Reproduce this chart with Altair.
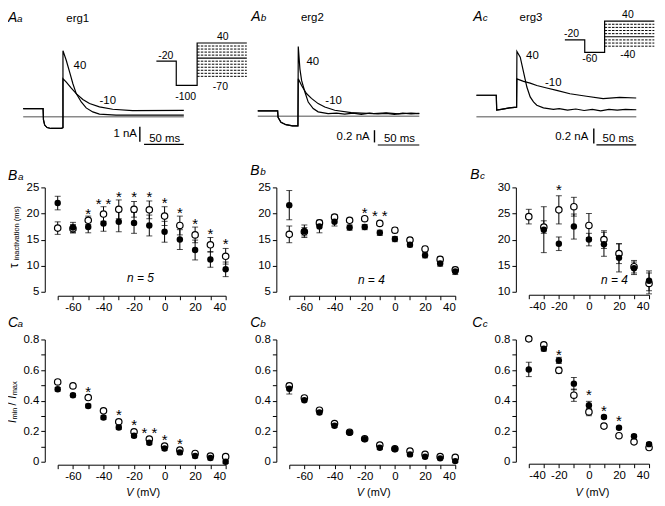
import altair as alt
import pandas as pd

FONT = "Liberation Sans"

# ================= Row A: current traces (t in ms, I in nA) =================
# erg1
erg1_pre_t = [0, 25, 25.5, 27, 30, 35, 48, 50]
erg1_pre_i = [0.55, 0.55, -0.2, -0.55, -0.72, -0.78, -0.78, -0.72]
erg1_p40_t = [50, 54.2, 58.4, 62.5, 66.7, 73.0, 79.2, 87.5, 95.9, 116.7, 202]
erg1_p40_i = [4.44, 3.78, 3.0, 2.22, 1.56, 1.0, 0.6, 0.33, 0.18, 0.11, 0.11]
erg1_m10_t = [50, 54.2, 60.5, 66.7, 75, 83.4, 95.9, 112.5, 137.5, 202]
erg1_m10_i = [2.56, 2.33, 1.93, 1.56, 1.16, 0.89, 0.67, 0.51, 0.42, 0.44]
# erg2
erg2_pre_t = [0, 24, 24.5, 28, 34, 42, 48.5]
erg2_pre_i = [0.086, 0.086, -0.02, -0.10, -0.14, -0.158, -0.16]
erg2_p40_t = [48.9, 50.9, 52.9, 56.9, 60.9, 66.9, 72.9, 84.9, 95, 105, 115, 125, 135, 145, 155, 165, 175, 185, 195]
erg2_p40_i = [1.14, 0.77, 0.585, 0.395, 0.23, 0.124, 0.07, 0.042, 0.05, 0.032, 0.048, 0.03, 0.05, 0.035, 0.045, 0.03, 0.05, 0.035, 0.045]
erg2_m10_t = [48.9, 52.9, 58.8, 64.8, 72.9, 80.9, 92.9, 112.9, 125, 140, 155, 170, 185, 195]
erg2_m10_i = [0.61, 0.50, 0.37, 0.29, 0.205, 0.15, 0.097, 0.059, 0.05, 0.04, 0.052, 0.038, 0.05, 0.042]
# erg3
erg3_pre_t = [0, 24, 24.5, 30, 40, 48.5]
erg3_pre_i = [0.29, 0.29, 0.09, 0.10, 0.12, 0.13]
erg3_p40_t = [48.9, 52.9, 56.9, 60.9, 64.9, 68.9, 72.9, 80.9, 92.9, 100, 110, 120, 130, 140, 150, 160, 170, 180, 193]
erg3_p40_i = [0.876, 0.80, 0.60, 0.40, 0.267, 0.20, 0.156, 0.12, 0.10, 0.11, 0.09, 0.105, 0.085, 0.10, 0.08, 0.10, 0.09, 0.10, 0.095]
erg3_m10_t = [48.9, 56.9, 64.9, 72.9, 84.9, 96.9, 112.9, 132.9, 152.9, 172.9, 192.9]
erg3_m10_i = [0.51, 0.476, 0.453, 0.42, 0.387, 0.356, 0.31, 0.276, 0.244, 0.262, 0.253]

zero_end = [202, 195, 193]
erg1_lab = [(63.4, 3.22, "40"), (96, 0.89, "-10")]
erg2_lab = [(58.8, 0.84, "40"), (81.6, 0.205, "-10")]
erg3_lab = [(60, 0.77, "40"), (82.8, 0.415, "-10")]
erg1_bar = dict(vt=146.7, vi=(-0.67, -1.67), vtxt="1 nA", vtxt_t=143, vtxt_i=-1.17,
                ht=(152, 202), hi=-1.85, htxt="50 ms", htxt_t=178, htxt_i=-1.67)
erg2_bar = dict(vt=140.9, vi=(-0.23, -0.43), vtxt="0.2 nA", vtxt_t=135, vtxt_i=-0.337,
                ht=(144.9, 195), hi=-0.472, htxt="50 ms", htxt_t=171, htxt_i=-0.418)
erg3_bar = dict(vt=141.7, vi=(-0.156, -0.356), vtxt="0.2 nA", vtxt_t=135, vtxt_i=-0.267,
                ht=(144.9, 192.9), hi=-0.377, htxt="50 ms", htxt_t=171, htxt_i=-0.333)

# voltage protocols (schematic time units, mV)
prot1_v = [0, 20, 20, 41, 41, 91]
prot1_mv = [-20, -20, -100, -100, 40, 40]
prot1_levels = [30, 20, 10, 0, -10, -20, -30, -40, -50, -60, -70]
prot1_labels = [(9.4, -12.5, "-20"), (29.4, -147, "-100"), (66.7, 49.8, "40"), (64.4, -116, "-70")]
prot3_v = [0, 20, 20, 40, 40, 90]
prot3_mv = [-20, -20, -60, -60, 40, 40]
prot3_levels = [30, 20, 10, 0, -10, -20, -30, -40]
prot3_labels = [(6.7, -10.8, "-20"), (25, -92, "-60"), (63.4, 48.6, "40"), (63.4, -77.5, "-40")]

# ================= Row B: tau inactivation (ms) =================
V_all = [-70, -60, -50, -40, -30, -20, -10, 0, 10, 20, 30, 40]
Ba_open = [17.2, 17.1, 18.7, 19.9, 20.8, 20.8, 20.7, 19.5, 17.7, 15.9, 14.0, 11.8]
Ba_open_err = [1.2, 0.8, 0.8, 1.4, 1.8, 1.5, 1.7, 1.8, 1.8, 1.5, 1.4, 1.5]
Ba_fill = [22.0, 17.3, 17.4, 18.1, 18.4, 18.2, 17.7, 16.5, 15.0, 13.0, 11.2, 9.3]
Ba_fill_err = [1.3, 1.0, 1.1, 1.5, 1.9, 2.0, 2.0, 2.0, 1.9, 1.9, 1.5, 1.4]
Ba_ast_V = [-50, -40, -30, -20, -10, 0, 10, 20, 30, 40]
Ba_ast_y = [20.5, 22.4, 23.7, 23.7, 23.7, 22.6, 20.7, 18.6, 16.6, 14.8]
Ba_ast_t = ["*", "* *", "*", "*", "*", "*", "*", "*", "*", "*"]

Bb_open = [16.0, 16.5, 18.2, 19.3, 18.7, 19.0, 18.1, 16.8, 14.9, 13.2, 11.2, 9.2]
Bb_open_err = [1.6, 0.8, 0.5, 0.5, 0.4, 0.4, 0.4, 0.5, 0.5, 0.5, 0.5, 0.5]
Bb_fill = [21.6, 16.6, 17.5, 18.4, 17.3, 17.4, 16.3, 15.1, 14.0, 12.0, 10.4, 8.9]
Bb_fill_err = [2.8, 1.2, 1.2, 0.8, 0.5, 0.5, 0.5, 0.5, 0.4, 0.5, 0.5, 0.6]
Bb_ast_V = [-20, -10]
Bb_ast_y = [20.6, 20.0]
Bb_ast_t = ["*", "* *"]

V_erg3 = [-40, -30, -20, -10, 0, 10, 20, 30, 40]
Bc_open = [24.4, 22.4, 25.7, 26.3, 22.7, 20.0, 17.3, 14.8, 11.6]
Bc_open_err = [1.4, 1.2, 2.7, 1.8, 2.3, 1.7, 1.9, 1.2, 2.0]
V_erg3_fill = [-30, -20, -10, 0, 10, 20, 30, 40]
Bc_fill = [21.9, 19.2, 22.5, 20.0, 19.1, 16.5, 14.5, 12.1]
Bc_fill_err = [4.4, 1.3, 2.4, 1.2, 2.3, 2.7, 1.2, 1.9]
Bc_ast_V = [-20]
Bc_ast_y = [30.0]
Bc_ast_t = ["*"]

# ================= Row C: Imin / Imax =================
Ca_open = [0.522, 0.496, 0.42, 0.333, 0.261, 0.196, 0.148, 0.102, 0.076, 0.054, 0.037, 0.033]
Ca_fill = [0.474, 0.435, 0.365, 0.289, 0.224, 0.170, 0.124, 0.087, 0.061, 0.037, 0.024, 0.0]
Ca_err = [0.012] * 12
Ca_ast_V = [-50, -30, -20, -10, 0, 10]
Ca_ast_y = [0.478, 0.326, 0.261, 0.207, 0.163, 0.137]
Ca_ast_t = ["*", "*", "*", "* *", "*", "*"]

Cb_open = [0.496, 0.417, 0.337, 0.25, 0.193, 0.15, 0.109, 0.085, 0.07, 0.048, 0.033, 0.028]
Cb_fill = [0.478, 0.402, 0.322, 0.235, 0.191, 0.148, 0.091, 0.083, 0.048, 0.033, 0.022, 0.004]
Cb_open_err = [0.012] * 12
Cb_fill_err = [0.035] + [0.01] * 11

Cc_open = [0.804, 0.765, 0.598, 0.435, 0.326, 0.233, 0.17, 0.13, 0.093]
Cc_open_err = [0.015, 0.015, 0.02, 0.04, 0.025, 0.01, 0.01, 0.01, 0.01]
Cc_fill = [0.604, 0.739, 0.663, 0.511, 0.37, 0.293, 0.222, 0.167, 0.115]
Cc_fill_err = [0.047, 0.015, 0.02, 0.04, 0.025, 0.01, 0.01, 0.01, 0.01]
Cc_ast_V = [-20, 0, 10, 20]
Cc_ast_y = [0.72, 0.457, 0.354, 0.283]
Cc_ast_t = ["*", "*", "*", "*"]

DUMMY = pd.DataFrame({"z": [0]})


def txt(s, x, y, size, style="normal", angle=0, align="left", baseline="alphabetic"):
    kw = dict(text=s, fontSize=size, fontStyle=style, align=align, baseline=baseline)
    if angle:
        kw["angle"] = angle
    return alt.Chart(DUMMY).mark_text(**kw).encode(x=alt.value(x), y=alt.value(y))


def label(big, small, x, y, x2):
    return [txt(big, x, y, 14, "italic"), txt(small, x2, y, 10, "italic")]


def vmv_title(x, y):
    return [txt("V", x, y, 11, "italic"), txt("(mV)", x + 10.3, y, 11)]


def tau_title():
    return [txt("τ", -40, 89, 12, angle=270), txt("inactivation (ms)", -39, 81.5, 7.5, angle=270)]


def imm_title():
    return [txt("I", -42, 92, 10.5, "italic", angle=270),
            txt("min", -40.5, 88.5, 7.5, angle=270),
            txt("/", -42, 74.5, 10.5, angle=270),
            txt("I", -42, 67.6, 10.5, "italic", angle=270),
            txt("max", -40.5, 64.2, 7.5, angle=270)]


def trace_panel(pre_t, pre_i, traces, zend, labs, bar, trange, irange, idom, w, h, lab, erg, ergx, ergy,
                inset=None, anchor=False):
    rows = []
    for name, (tt, ii) in traces.items():
        k = 0
        for t, i in list(zip(pre_t, pre_i)) + list(zip(tt, ii)):
            rows.append({"t": t, "I": i, "trace": name, "k": k})
            k += 1
    df = pd.DataFrame(rows)
    X = alt.X("t:Q", scale=alt.Scale(domain=[0, 200], range=trange, nice=False, zero=False), axis=None)
    Y = alt.Y("I:Q", scale=alt.Scale(domain=idom, range=irange, nice=False, zero=False), axis=None)
    zero = alt.Chart(pd.DataFrame({"t": [0], "t2": [zend], "I": [0]})).mark_rule(
        color="#8a8a8a", strokeWidth=1.5).encode(x=X, x2="t2:Q", y=Y)
    lines = alt.Chart(df).mark_line(color="black", strokeWidth=1.2).encode(
        x=X, y=Y, detail="trace:N", order="k:Q")
    lab_df = pd.DataFrame({"t": [a for a, b, c in labs], "I": [b for a, b, c in labs],
                           "s": [c for a, b, c in labs]})
    labt = alt.Chart(lab_df).mark_text(fontSize=11.5, align="left", baseline="alphabetic").encode(
        x=X, y=Y, text="s:N")
    vbar = alt.Chart(pd.DataFrame({"t": [bar["vt"]], "I": [bar["vi"][0]], "I2": [bar["vi"][1]]})).mark_rule(
        color="black", strokeWidth=1.4).encode(x=X, y=Y, y2="I2:Q")
    hbar = alt.Chart(pd.DataFrame({"t": [bar["ht"][0]], "t2": [bar["ht"][1]], "I": [bar["hi"]]})).mark_rule(
        color="black", strokeWidth=1.2).encode(x=X, x2="t2:Q", y=Y)
    vtxt = alt.Chart(pd.DataFrame({"t": [bar["vtxt_t"]], "I": [bar["vtxt_i"]], "s": [bar["vtxt"]]})).mark_text(
        fontSize=11.5, align="right", baseline="middle").encode(x=X, y=Y, text="s:N")
    htxt = alt.Chart(pd.DataFrame({"t": [bar["htxt_t"]], "I": [bar["htxt_i"]], "s": [bar["htxt"]]})).mark_text(
        fontSize=11.5, align="center", baseline="alphabetic").encode(x=X, y=Y, text="s:N")
    layers = [zero, lines, labt, vbar, hbar, vtxt, htxt, txt(erg, ergx, ergy, 11.5)] + label(*lab)
    if anchor:
        layers.append(alt.Chart(DUMMY).mark_rule(opacity=0, strokeWidth=0.01).encode(
            x=alt.value(-50), x2=alt.value(0), y=alt.value(-8)))
    main = alt.layer(*layers)
    if inset is None:
        return main.properties(width=w, height=h)
    pv, pm, levels, plabs, vrange, mrange = inset
    VX = alt.X("v:Q", scale=alt.Scale(domain=[0, 100], range=vrange, nice=False, zero=False), axis=None)
    VY = alt.Y("mV:Q", scale=alt.Scale(domain=[-100, 40], range=mrange, nice=False, zero=False), axis=None)
    step = alt.Chart(pd.DataFrame({"v": pv, "mV": pm, "k": list(range(len(pv)))})).mark_line(
        color="black", strokeWidth=1.2).encode(x=VX, y=VY, order="k:Q")
    solid_lv = [l for l in levels if l == -10]
    dash_lv = [l for l in levels if l != -10]
    v0, v1 = pv[3], pv[-1]
    solid = alt.Chart(pd.DataFrame({"v": [v0] * len(solid_lv), "v2": [v1] * len(solid_lv), "mV": solid_lv})).mark_rule(
        color="black", strokeWidth=1.1).encode(x=VX, x2="v2:Q", y=VY)
    dashed = alt.Chart(pd.DataFrame({"v": [v0] * len(dash_lv), "v2": [v1] * len(dash_lv), "mV": dash_lv})).mark_rule(
        color="black", strokeWidth=1, strokeDash=[2.5, 1.2]).encode(x=VX, x2="v2:Q", y=VY)
    pl = alt.Chart(pd.DataFrame({"v": [a for a, b, c in plabs], "mV": [b for a, b, c in plabs],
                                 "s": [c for a, b, c in plabs]})).mark_text(
        fontSize=10.5, align="center", baseline="alphabetic").encode(x=VX, y=VY, text="s:N")
    ins = alt.layer(step, solid, dashed, pl)
    return alt.layer(main, ins).resolve_scale(x="independent", y="independent").properties(width=w, height=h)


def iv_panel(Vo, yo, eo, Vf, yf, ef, ast, xdom, xticks, xr, ydom, yticks, ylab_expr, w, h,
             yoff, xoff, ntext, lab, extra):
    xaxis = dict(values=xticks, labelExpr="datum.value % 20 == 0 ? '' + datum.value : ''",
                 offset=xoff, title=None)
    yaxis = dict(values=yticks, labelExpr=ylab_expr, offset=yoff, title=None)

    def XX(f="V"):
        return alt.X(f + ":Q", scale=alt.Scale(domain=xdom, range=[0, xr], nice=False, zero=False),
                     axis=alt.Axis(**xaxis))

    def YY(f):
        return alt.Y(f + ":Q", scale=alt.Scale(domain=ydom, range=[h, 8], nice=False, zero=False),
                     axis=alt.Axis(**yaxis))

    do = pd.DataFrame({"V": Vo, "y": yo, "lo": [a - b for a, b in zip(yo, eo)], "hi": [a + b for a, b in zip(yo, eo)]})
    dfl = pd.DataFrame({"V": Vf, "y": yf, "lo": [a - b for a, b in zip(yf, ef)], "hi": [a + b for a, b in zip(yf, ef)]})
    layers = []
    for d in (do, dfl):
        layers.append(alt.Chart(d).mark_rule(color="black", strokeWidth=1).encode(x=XX(), y=YY("lo"), y2="hi:Q"))
        for f in ("lo", "hi"):
            layers.append(alt.Chart(d).mark_tick(color="black", orient="horizontal", size=6, thickness=1).encode(
                x=XX(), y=YY(f)))
    layers.append(alt.Chart(do).mark_point(shape="circle", filled=True, fill="white", stroke="black",
                                           strokeWidth=1.2, size=42, opacity=1).encode(x=XX(), y=YY("y")))
    layers.append(alt.Chart(dfl).mark_point(shape="circle", filled=True, color="black",
                                            size=42, opacity=1).encode(x=XX(), y=YY("y")))
    if ast:
        av, ay, at = ast
        layers.append(alt.Chart(pd.DataFrame({"V": av, "y": ay, "s": at})).mark_text(
            fontSize=15, baseline="alphabetic", dy=8).encode(x=XX(), y=YY("y"), text="s:N"))
    if ntext:
        s, nv, ny = ntext
        layers.append(alt.Chart(pd.DataFrame({"V": [nv], "y": [ny], "s": [s]})).mark_text(
            fontSize=12, fontStyle="italic", baseline="middle").encode(x=XX(), y=YY("y"), text="s:N"))
    layers += label(*lab) + extra
    return alt.layer(*layers).properties(width=w, height=h)


xt_full = list(range(-70, 41, 10))
xt_erg3 = list(range(-40, 41, 10))
yB_expr = "'' + datum.value"
yC_vals = [0, 0.1, 0.2, 0.3, 0.4, 0.5, 0.6, 0.7, 0.8]
yC_expr = "round(datum.value * 10) % 2 == 0 ? (datum.value == 0 ? '0' : format(datum.value, '.1f')) : ''"

Aa = trace_panel(erg1_pre_t, erg1_pre_i, {"p40": (erg1_p40_t, erg1_p40_i), "m10": (erg1_m10_t, erg1_m10_i)},
                 zero_end[0], erg1_lab, erg1_bar, [-34.7, 125.3], [99, 24], [0, 5], 169, 122,
                 ("A", "a", -50, 3.3, -41), "erg1", 8.7, 3.3,
                 inset=(prot1_v, prot1_mv, prot1_levels, prot1_labels, [99.3, 199.3], [67.4, 24.7]),
                 anchor=True)
Ab = trace_panel(erg2_pre_t, erg2_pre_i, {"p40": (erg2_p40_t, erg2_p40_i), "m10": (erg2_m10_t, erg2_m10_i)},
                 zero_end[1], erg2_lab, erg2_bar, [-31.7, 135], [98.3, 36.8], [0, 1], 177, 122,
                 ("A", "b", -38.3, 2.3, -28.7), "erg2", 11.7, 3)
Ac = trace_panel(erg3_pre_t, erg3_pre_i, {"p40": (erg3_p40_t, erg3_p40_i), "m10": (erg3_m10_t, erg3_m10_i)},
                 zero_end[2], erg3_lab, erg3_bar, [-52.7, 114], [99, 24], [0, 1], 121, 122,
                 ("A", "c", -56, 3, -46.3), "erg3", -9.3, 3,
                 inset=(prot3_v, prot3_mv, prot3_levels, prot3_labels, [36.3, 136.3], [46.8, 2.7]))

Ba = iv_panel(V_all, Ba_open, Ba_open_err, V_all, Ba_fill, Ba_fill_err, (Ba_ast_V, Ba_ast_y, Ba_ast_t),
              [-70, 40], xt_full, 169, [5, 25], [5, 10, 15, 20, 25], yB_expr, 169, 113, 13, 4,
              ("n = 5", -15.8, 7.6), ("B", "a", -50, 0.3, -40), tau_title())
Bb = iv_panel(V_all, Bb_open, Bb_open_err, V_all, Bb_fill, Bb_fill_err, (Bb_ast_V, Bb_ast_y, Bb_ast_t),
              [-70, 40], xt_full, 167, [5, 25], [5, 10, 15, 20, 25], yB_expr, 177, 113, 13, 4,
              ("n = 4", -15.6, 7.3), ("B", "b", -39.3, -4, -29.3), [])
Bc = iv_panel(V_erg3, Bc_open, Bc_open_err, V_erg3_fill, Bc_fill, Bc_fill_err, (Bc_ast_V, Bc_ast_y, Bc_ast_t),
              [-40, 40], xt_erg3, 121, [10, 30], [10, 15, 20, 25, 30], yB_expr, 121, 113, 13, 3,
              ("n = 4", 17, 12.2), ("B", "c", -59, 0, -49), [])

Ca = iv_panel(V_all, Ca_open, Ca_err, V_all, Ca_fill, Ca_err, (Ca_ast_V, Ca_ast_y, Ca_ast_t),
              [-70, 40], xt_full, 169, [0, 0.8], yC_vals, yC_expr, 169, 131, 13, 3,
              None, ("C", "a", -50, -4.3, -40.5), imm_title() + vmv_title(69, 165))
Cb = iv_panel(V_all, Cb_open, Cb_open_err, V_all, Cb_fill, Cb_fill_err, None,
              [-70, 40], xt_full, 167, [0, 0.8], yC_vals, yC_expr, 177, 131, 13, 3,
              None, ("C", "b", -39.3, -5, -29.3), vmv_title(68, 165))
Cc = iv_panel(V_erg3, Cc_open, Cc_open_err, V_erg3, Cc_fill, Cc_fill_err, (Cc_ast_V, Cc_ast_y, Cc_ast_t),
              [-40, 40], xt_erg3, 121, [0, 0.8], yC_vals, yC_expr, 121, 131, 13, 2,
              None, ("C", "c", -57, -4.3, -46.3), vmv_title(47, 165))

chart = alt.concat(Aa, Ab, Ac, Ba, Bb, Bc, Ca, Cb, Cc, columns=3, spacing={"row": 40, "column": 64},
                   bounds="flush", align="each", padding=0).configure(
    font=FONT
).configure_view(stroke=None).configure_axis(
    labelFont=FONT, labelFontSize=11.5, labelColor="black", domainColor="black", tickColor="black",
    tickSize=4, labelPadding=2, grid=False, domainWidth=1, tickWidth=1
).configure_text(font=FONT, color="black")

chart.save("out.html", embed_options={"renderer": "svg", "actions": False})
